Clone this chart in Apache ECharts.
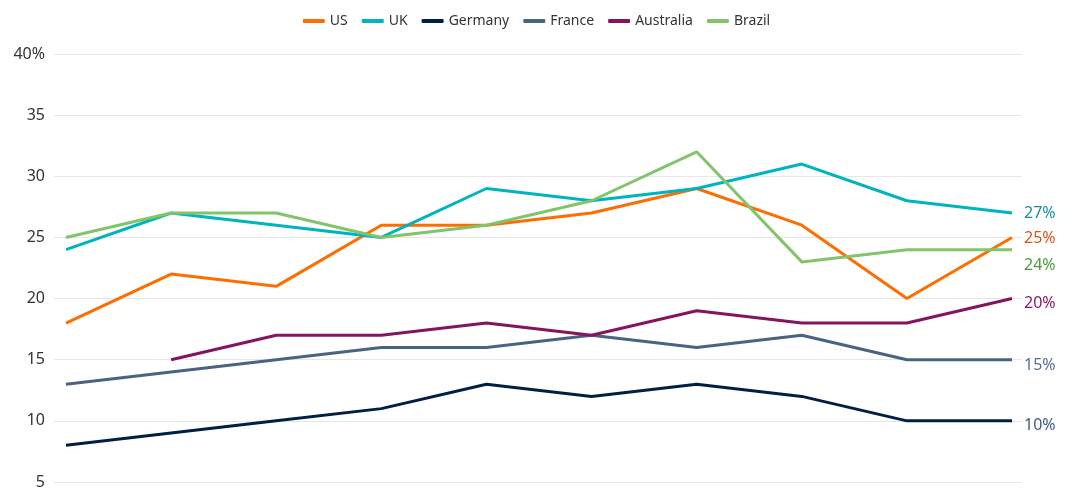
<!DOCTYPE html>
<html><head><meta charset="utf-8">
<script src="https://cdn.jsdelivr.net/npm/echarts@6/dist/echarts.min.js"></script>
<style>html,body{margin:0;padding:0;background:#fff}#c{width:1073px;height:503px}</style>
</head><body><div id="c"></div>
<script>
const categories = [0,1,2,3,4,5,6,7,8,9];
const US = [18,22,21,26,26,27,29,26,20,25];
const UK = [24,27,26,25,29,28,29,31,28,27];
const Germany = [8,9,10,11,13,12,13,12,10,10];
const France = [13,14,15,16,16,17,16,17,15,15];
const Australia = [null,15,17,17,18,17,19,18,18,20];
const Brazil = [25,27,27,25,26,28,32,23,24,24];
const yTicks = [5,10,15,20,25,30,35,40];

const defs = [
  {name:'US', data:US, color:'#ff6d00', lab:'#d9531e', off:[0,1]},
  {name:'UK', data:UK, color:'#00b3c0', lab:'#1a8e9b', off:[0,0]},
  {name:'Germany', data:Germany, color:'#001f45', lab:'#3f5a80', off:[0,5]},
  {name:'France', data:France, color:'#4a6383', lab:'#56708f', off:[0,6]},
  {name:'Australia', data:Australia, color:'#841460', lab:'#8b1a6b', off:[0,5]},
  {name:'Brazil', data:Brazil, color:'#82c46a', lab:'#4a9b3f', off:[0,16]}
];
const FONT = '"Noto Sans", sans-serif';
const chart = echarts.init(document.getElementById('c'));
chart.setOption({
  animation:false,
  textStyle:{fontFamily:FONT},
  legend:{top:9, left:'center', itemWidth:22, itemHeight:4, itemGap:14, icon:'roundRect',
    textStyle:{fontSize:14, color:'#333', fontFamily:FONT}},
  grid:{left:54, right:51, top:54, bottom:21},
  xAxis:{type:'value', min:-0.114, max:9.095, show:false},
  yAxis:{type:'value', min:5, max:40, interval:5,
    axisLine:{show:false}, axisTick:{show:false},
    splitLine:{lineStyle:{color:'#e6e6e6'}},
    axisLabel:{fontSize:16, color:'#333', margin:9, fontFamily:FONT,
      formatter:v=> v===40 ? '40%' : String(v)}},
  series: defs.map(d=>({
    name:d.name, type:'line', showSymbol:false, symbol:'none',
    color:d.color, lineStyle:{width:3, color:d.color},
    data: categories.map((c,i)=>[c, d.data[i]]),
    endLabel:{show:true, formatter:p=>p.value[1]+'%', color:d.lab, fontSize:16,
      fontFamily:FONT, distance:12, offset:d.off}
  }))
});
</script></body></html>
